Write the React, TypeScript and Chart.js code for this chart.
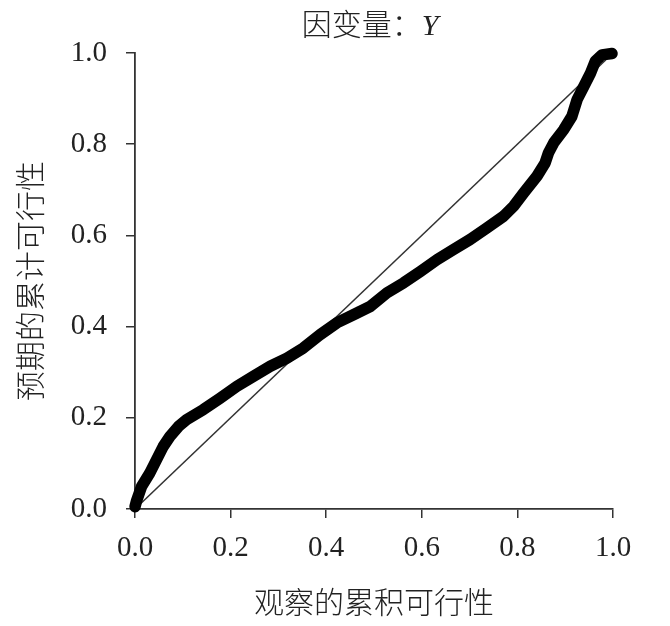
import React, { useEffect, useRef } from "react";
import { Chart, registerables } from "chart.js";

Chart.register(...registerables);

// Observed cumulative probability (x) and expected cumulative probability (y)
const observedCum: number[] = [
  0, 0.003, 0.014, 0.031, 0.045, 0.059, 0.073, 0.091, 0.108, 0.143, 0.178,
  0.213, 0.248, 0.283, 0.318, 0.352, 0.387, 0.422, 0.457, 0.492, 0.527, 0.562,
  0.597, 0.632, 0.666, 0.701, 0.736, 0.771, 0.792, 0.813, 0.841, 0.858, 0.865,
  0.876, 0.897, 0.914, 0.925, 0.939, 0.953, 0.963, 0.977, 0.998,
];
const expectedCum: number[] = [
  0.005, 0.017, 0.05, 0.079, 0.108, 0.137, 0.159, 0.181, 0.196, 0.218, 0.243,
  0.269, 0.291, 0.313, 0.331, 0.353, 0.382, 0.408, 0.426, 0.444, 0.474, 0.496,
  0.521, 0.547, 0.569, 0.591, 0.616, 0.642, 0.664, 0.693, 0.73, 0.759, 0.781,
  0.803, 0.832, 0.861, 0.898, 0.927, 0.956, 0.982, 0.996, 0.999,
];
const refLineX: number[] = [0, 1];
const refLineY: number[] = [0, 1];
const tickValues: number[] = [0, 0.2, 0.4, 0.6, 0.8, 1.0];

const TITLE_MAIN = "因变量：";
const TITLE_VAR = "Y";
const X_TITLE = "观察的累积可行性";
const Y_TITLE = "预期的累计可行性";

const FONT_FAMILY = "'Liberation Serif', 'Times New Roman', 'Noto Sans CJK SC', serif";
const TEXT_COLOR = "#222";
const AXIS_COLOR = "#333";

const titlePlugin = {
  id: "mixedTitle",
  afterDraw(chart: any) {
    const ctx = chart.ctx as CanvasRenderingContext2D;
    const area = chart.chartArea;
    ctx.save();
    ctx.fillStyle = TEXT_COLOR;
    ctx.textBaseline = "middle";
    ctx.textAlign = "left";
    const normal = `300 30px ${FONT_FAMILY}`;
    const italic = `italic 30px ${FONT_FAMILY}`;
    ctx.font = normal;
    const w1 = ctx.measureText(TITLE_MAIN).width;
    ctx.font = italic;
    const w2 = ctx.measureText(TITLE_VAR).width;
    const cx = (area.left + area.right) / 2 - 4;
    const x0 = cx - (w1 + w2) / 2;
    const y = area.top - 26;
    ctx.font = normal;
    ctx.fillText(TITLE_MAIN, x0, y);
    ctx.font = italic;
    ctx.fillText(TITLE_VAR, x0 + w1, y);
    ctx.restore();
  },
};

export default function App() {
  const canvasRef = useRef<HTMLCanvasElement | null>(null);

  useEffect(() => {
    if (!canvasRef.current) return;
    const curve = observedCum.map((x, i) => ({ x, y: expectedCum[i] }));
    const diag = refLineX.map((x, i) => ({ x, y: refLineY[i] }));

    const tickFont = { family: FONT_FAMILY, size: 29 };
    const titleFont = { family: FONT_FAMILY, size: 30, weight: "300" as any };

    const chart = new Chart(canvasRef.current, {
      type: "scatter",
      data: {
        datasets: [
          {
            data: curve,
            showLine: true,
            borderColor: "#000",
            backgroundColor: "#000",
            borderWidth: 11.5,
            pointRadius: 0,
            borderCapStyle: "round",
            borderJoinStyle: "round",
            tension: 0,
            clip: false as any,
            order: 0,
          },
          {
            data: diag,
            showLine: true,
            borderColor: "#333",
            borderWidth: 1.5,
            pointRadius: 0,
            order: 1,
          },
        ],
      },
      options: {
        responsive: false,
        animation: false,
        events: [],
        layout: { padding: { top: 53, right: 57, bottom: 0, left: 0 } },
        plugins: {
          legend: { display: false },
          tooltip: { enabled: false },
          title: { display: false },
        },
        scales: {
          x: {
            type: "linear",
            min: 0,
            max: 1,
            afterBuildTicks: (scale: any) => {
              scale.ticks = tickValues.map((v) => ({ value: v }));
            },
            afterFit: (scale: any) => {
              scale.height = 117;
            },
            ticks: {
              color: TEXT_COLOR,
              font: tickFont,
              padding: 13,
              maxRotation: 0,
              callback: (v: any) => Number(v).toFixed(1),
            },
            grid: {
              drawOnChartArea: false,
              drawTicks: true,
              tickLength: 9,
              color: AXIS_COLOR,
              lineWidth: 1.5,
            },
            border: { display: true, color: AXIS_COLOR, width: 1.8 },
            title: {
              display: true,
              text: X_TITLE,
              color: TEXT_COLOR,
              font: titleFont,
              padding: { top: 0, bottom: 3 },
            },
          },
          y: {
            type: "linear",
            min: 0,
            max: 1,
            afterBuildTicks: (scale: any) => {
              scale.ticks = tickValues.map((v) => ({ value: v }));
            },
            afterFit: (scale: any) => {
              scale.width = 135;
            },
            ticks: {
              color: TEXT_COLOR,
              font: tickFont,
              padding: 19,
              callback: (v: any) => Number(v).toFixed(1),
            },
            grid: {
              drawOnChartArea: false,
              drawTicks: true,
              tickLength: 9,
              color: AXIS_COLOR,
              lineWidth: 1.5,
            },
            border: { display: true, color: AXIS_COLOR, width: 1.8 },
            title: {
              display: true,
              text: Y_TITLE,
              color: TEXT_COLOR,
              font: titleFont,
              padding: { top: 15, bottom: 0 },
            },
          },
        },
      },
      plugins: [titlePlugin],
    });
    return () => chart.destroy();
  }, []);

  return (
    <div style={{ position: "absolute", left: 0, top: 0, width: 670, height: 626, background: "#fff" }}>
      <canvas ref={canvasRef} width={670} height={626} style={{ display: "block" }} />
    </div>
  );
}
